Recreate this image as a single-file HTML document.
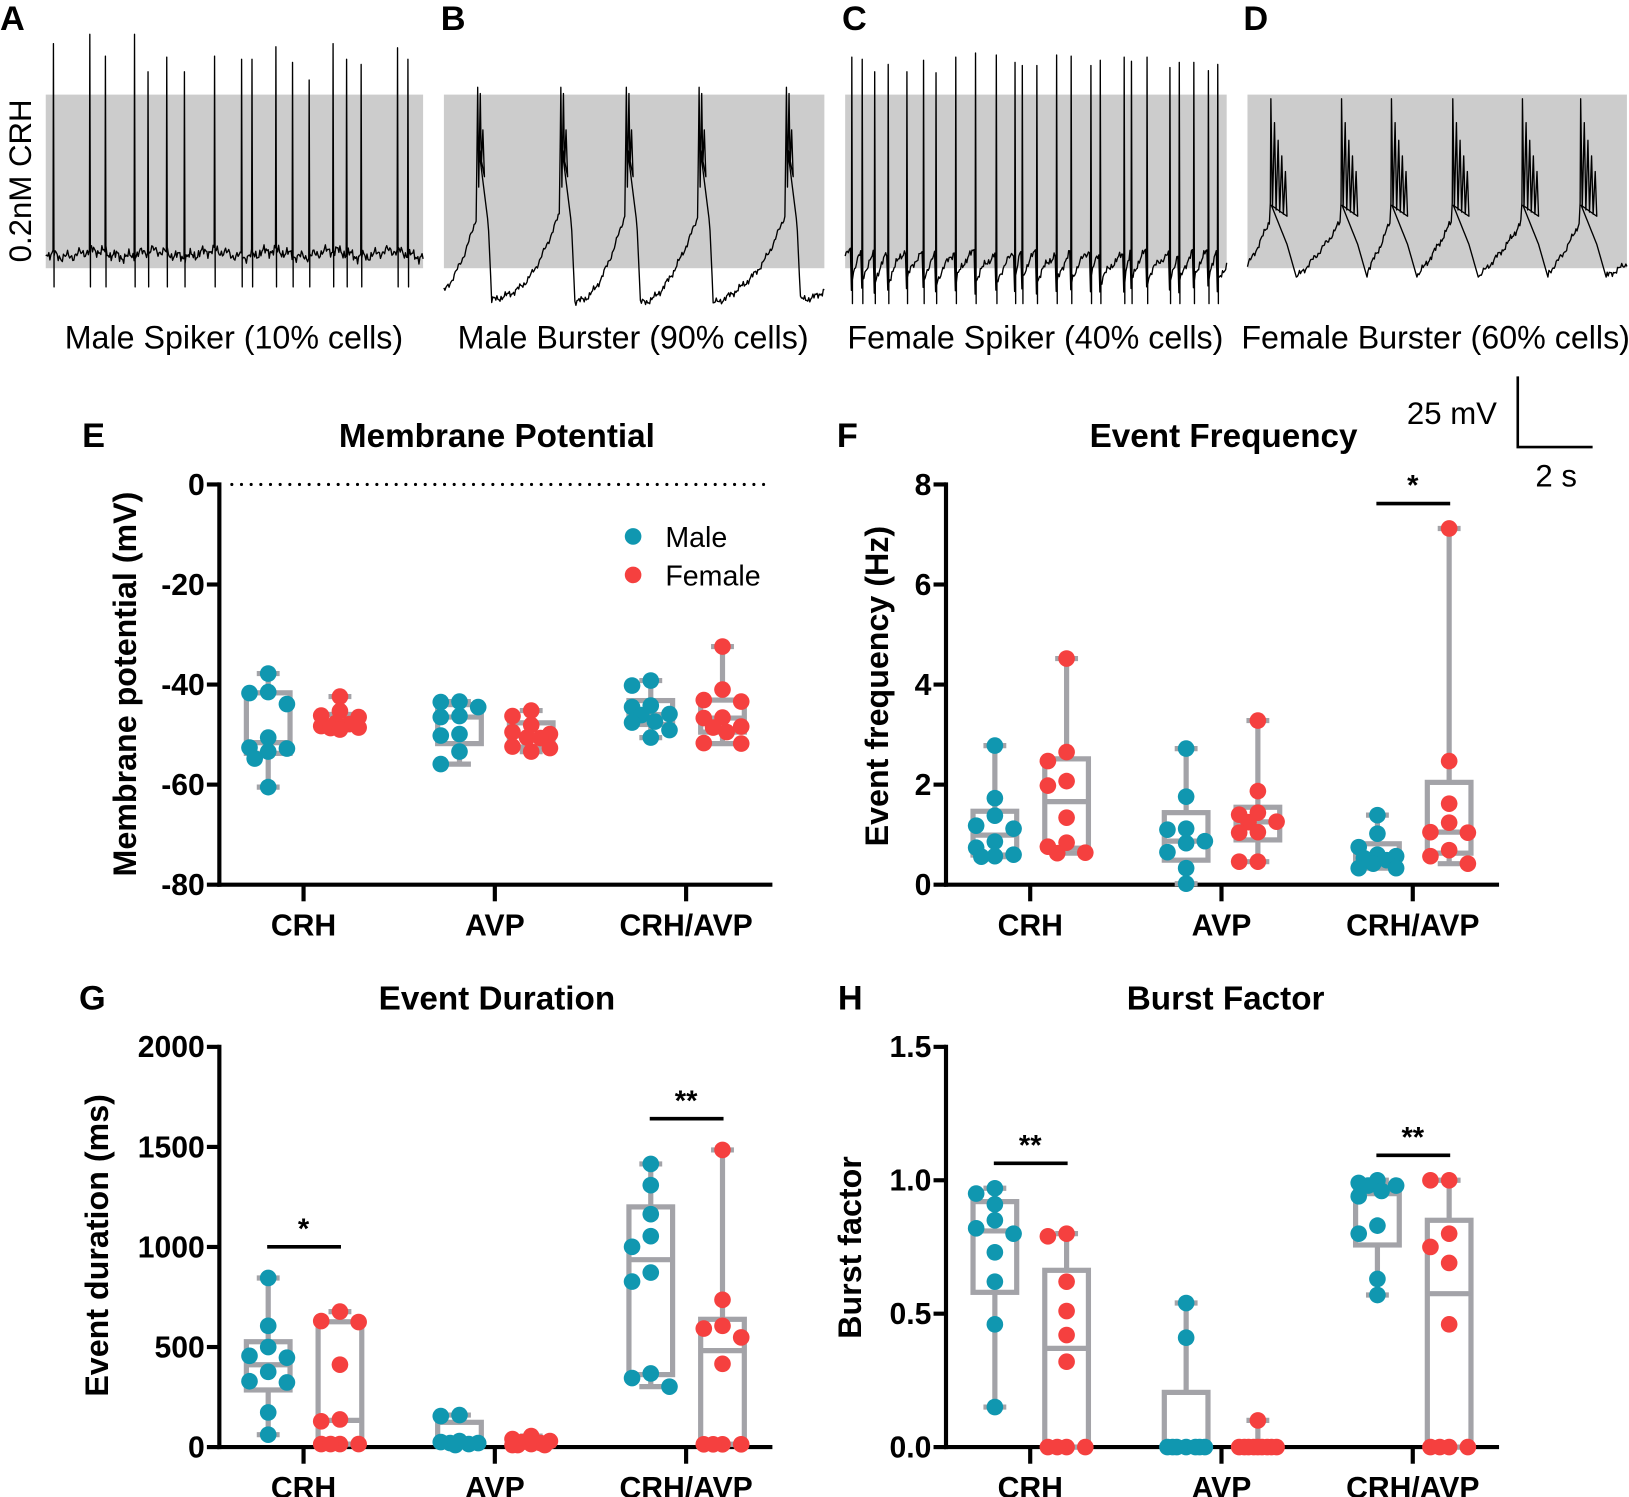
<!DOCTYPE html>
<html><head><meta charset="utf-8"><style>
html,body{margin:0;padding:0;background:#fff}
svg{display:block}
text{font-family:"Liberation Sans",Arial,sans-serif}
.b{font-weight:bold}
</style></head><body>
<svg id="fig" width="1629" height="1497" viewBox="0 0 1567 1440" xmlns="http://www.w3.org/2000/svg">
<g id="traces">
<rect x="44" y="91" width="363" height="167" fill="#cccccc"/>
<rect x="427" y="91" width="366" height="167" fill="#cccccc"/>
<rect x="813" y="91" width="367" height="167" fill="#cccccc"/>
<rect x="1200" y="91" width="365" height="167" fill="#cccccc"/>
</g>
<text class="b" x="0" y="29" font-size="33">A</text>
<text class="b" x="424" y="29" font-size="33">B</text>
<text class="b" x="810" y="29" font-size="33">C</text>
<text class="b" x="1196" y="29" font-size="33">D</text>
<text x="0" y="0" font-size="30" text-anchor="middle" transform="translate(30,174) rotate(-90)">0.2nM CRH</text>
<text x="225" y="335" font-size="31" text-anchor="middle">Male Spiker (10% cells)</text>
<text x="609" y="335" font-size="31" text-anchor="middle">Male Burster (90% cells)</text>
<text x="996" y="335" font-size="31" text-anchor="middle">Female Spiker (40% cells)</text>
<text x="1381" y="335" font-size="31" text-anchor="middle">Female Burster (60% cells)</text>
<path d="M1460,362 V430 H1532" fill="none" stroke="#000" stroke-width="2.5"/>
<text x="1440" y="408" font-size="30" text-anchor="end">25 mV</text>
<text x="1497" y="468" font-size="30" text-anchor="middle">2 s</text>

<text class="b" x="79" y="430" font-size="33">E</text>
<text class="b" x="805" y="430" font-size="33">F</text>
<text class="b" x="76" y="971" font-size="33">G</text>
<text class="b" x="806" y="971" font-size="33">H</text>
<text class="b" x="478" y="430" font-size="32" text-anchor="middle">Membrane Potential</text>
<text class="b" x="1177" y="430" font-size="32" text-anchor="middle">Event Frequency</text>
<text class="b" x="478" y="971" font-size="32" text-anchor="middle">Event Duration</text>
<text class="b" x="1179" y="971" font-size="32" text-anchor="middle">Burst Factor</text>
<text class="b" font-size="31" text-anchor="middle" transform="translate(131,658) rotate(-90)">Membrane potential (mV)</text>
<text class="b" font-size="31" text-anchor="middle" transform="translate(854,660) rotate(-90)">Event frequency (Hz)</text>
<text class="b" font-size="31" text-anchor="middle" transform="translate(104,1198) rotate(-90)">Event duration (ms)</text>
<text class="b" font-size="31" text-anchor="middle" transform="translate(828,1200) rotate(-90)">Burst factor</text>
<g>
<circle cx="609" cy="516" r="8" fill="#1097b0"/>
<text x="640" y="526" font-size="27.5">Male</text>
<circle cx="609" cy="553" r="8" fill="#f5403f"/>
<text x="640" y="563" font-size="27.5">Female</text>
</g>
<g id="charts"></g>
</svg>
<script>
const categories = ["CRH", "AVP", "CRH/AVP"];
// Panel E: membrane potential (mV)
const memTicks = [0, -20, -40, -60, -80];
const memMale = [
  [-37.8,-41.5,-41.7,-43.9,-50.6,-52.6,-52.8,-53.4,-54.8,-60.5],
  [-43.4,-43.5,-44.5,-46.3,-46.5,-49.9,-50.2,-53.4,-55.9],
  [-39.2,-40.2,-44.2,-44.5,-45.9,-46.1,-47.4,-47.6,-49.1,-50.6]
];
const memFemale = [
  [-42.4,-45.3,-46.2,-46.5,-47.7,-47.9,-48.3,-48.6,-48.7,-49.0],
  [-45.2,-46.3,-48.1,-49.5,-49.9,-50.6,-50.7,-52.4,-52.7,-53.4],
  [-32.4,-41.0,-43.1,-43.4,-46.6,-46.7,-48.4,-48.6,-49.5,-51.7,-51.8]
];
// Panel F: event frequency (Hz)
const freqTicks = [0, 2, 4, 6, 8];
const freqMale = [
  [2.78,1.73,1.38,1.18,1.12,0.86,0.74,0.60,0.57,0.56],
  [2.72,1.76,1.12,1.10,0.87,0.83,0.65,0.33,0.02],
  [1.39,1.02,0.75,0.60,0.57,0.53,0.49,0.42,0.33,0.33]
];
const freqFemale = [
  [4.52,2.65,2.47,2.07,1.98,1.34,0.84,0.76,0.64,0.63],
  [3.28,1.87,1.44,1.40,1.26,1.25,1.05,1.04,0.46,0.46],
  [7.12,2.47,1.62,1.24,1.05,1.04,0.69,0.57,0.42]
];
// Panel G: event duration (ms)
const durTicks = [0, 500, 1000, 1500, 2000];
const durMale = [
  [845,606,500,456,447,376,329,323,173,62],
  [160,155,30,25,20,20,15,10],
  [1415,1309,1164,1054,1001,872,827,368,345,302]
];
const durFemale = [
  [677,630,625,412,138,129,15,15,15,15],
  [55,40,30,25,20,15,10,10,10],
  [1485,736,606,592,548,416,14,14,14,14]
];
// Panel H: burst factor
const burstTicks = ["0.0","0.5","1.0","1.5"];
const burstMale = [
  [0.97,0.95,0.91,0.85,0.82,0.80,0.73,0.62,0.46,0.15],
  [0.54,0.41,0,0,0,0,0,0,0],
  [1.0,0.99,0.98,0.98,0.96,0.94,0.83,0.80,0.63,0.57]
];
const burstFemale = [
  [0.80,0.79,0.62,0.51,0.42,0.32,0,0,0,0],
  [0.10,0,0,0,0,0,0,0,0,0],
  [1.0,1.0,0.80,0.75,0.69,0.46,0,0,0,0]
];
// Significance annotations: [category index, label]
const sigF = [[2,"*"]];
const sigG = [[0,"*"],[2,"**"]];
const sigH = [[0,"**"],[2,"**"]];

// Trace event positions
const spikesA = [51,86,101,129,142,160,177,206,232,242,265,281,297,320,333,347,382,392];
const spikeTopA = [42,33,54,33,69,55,69,54,57,57,45,60,77,42,57,62,46,57];
const burstsB = [459,539,602,672,756];
const spikesC = [819,829,841,854,872,888,900,919,938,958,976,983,997,1016,1030,1049,1058,1081,1088,1103,1125,1134,1148,1162,1171];
const spikeTopC = [55,57,69,62,69,58,70,55,51,53,60,63,63,53,54,63,58,55,59,55,65,60,60,68,62];
const burstsD = [1222,1290,1338,1397,1464,1520];

const NS = "http://www.w3.org/2000/svg";
const root = document.getElementById("charts");
const traces = document.getElementById("traces");
const TEAL = "#1097b0", RED = "#f5403f", GRAY = "#a3a3a8";

function mk(tag, attrs, parent) {
  const e = document.createElementNS(NS, tag);
  for (const k in attrs) e.setAttribute(k, attrs[k]);
  (parent || root).appendChild(e);
  return e;
}
function noise(x, s) {
  return Math.sin(x * 1.7 + s) * 2.6 + Math.sin(x * 0.53 + s * 2) * 3 + Math.sin(x * 3.1 + s * 3) * 2 + Math.sin(x * 0.11 + s) * 3;
}
function tracePath(pts, name) {
  let d = "M" + pts.map(p => p[0].toFixed(1) + "," + p[1].toFixed(1)).join("L");
  const p = mk("path", {d: d, fill: "none", stroke: "#000", "stroke-width": 1.3, "stroke-linejoin": "round"}, traces);
  
  
}
// Trace A
(function () {
  const pts = [];
  for (let x = 44; x <= 407; x += 1) {
    let y = 244 + noise(x, 1);
    pts.push([x, y]);
    const i = spikesA.indexOf(x);
    if (i >= 0) { pts.push([x + 0.4, spikeTopA[i]]); pts.push([x + 1, 276]); }
  }
  tracePath(pts, "trace-male-spiker");
})();
// Trace B
(function () {
  const pts = [];
  const ev = [429 - 40].concat(burstsB);
  for (let x = 427; x <= 793; x += 1) {
    let prev = null, next = null;
    for (const b of ev) { if (b <= x) prev = b; else if (next === null) next = b; }
    let y;
    const after = x - prev;
    if (prev >= 459 && after <= 10) {
      y = 130 + after * 8;
    } else {
      const t0 = prev + 10, t1 = next === null ? 830 : next;
      const trough = prev >= 459 ? 290 : 300;
      const f = Math.max(0, (x - t0) / (t1 - t0));
      y = trough - (trough - 205) * Math.pow(f, 2.2) + noise(x, 2) * 0.6;
      if (x - t0 < 4 && prev >= 459) y = 200 + (x - t0) * 22;
    }
    pts.push([x, y]);
    if (burstsB.indexOf(x) >= 0) {
      pts.push([x + 0.5, 84]); pts.push([x + 1.5, 180]);
      pts.push([x + 3, 90]); pts.push([x + 4, 160]);
      pts.push([x + 5.5, 125]); pts.push([x + 7, 170]);
    }
  }
  tracePath(pts, "trace-male-burster");
})();
// Trace C
(function () {
  const pts = [];
  for (let x = 813; x <= 1180; x += 1) {
    let prev = 800, next = 1190;
    for (const s of spikesC) { if (s <= x) prev = s; else { next = s; break; } }
    const f = (x - prev) / (next - prev);
    let y = 280 - 38 * Math.sqrt(f) + noise(x, 3) * 0.7;
    pts.push([x, y]);
    const i = spikesC.indexOf(x);
    if (i >= 0) { pts.push([x + 0.4, spikeTopC[i]]); pts.push([x + 1, 292]); }
  }
  tracePath(pts, "trace-female-spiker");
})();
// Trace D
(function () {
  const pts = [];
  for (let x = 1200; x <= 1565; x += 1) {
    let prev = 1170, next = null;
    for (const b of burstsD) { if (b <= x) prev = b; else if (next === null) next = b; }
    const after = x - prev;
    let y;
    if (prev >= 1222 && after <= 16) {
      y = 195 + after * 2.5;
    } else {
      const t0 = prev + 16, t1 = next === null ? 1600 : next;
      const f = Math.max(0, (x - t0) / (t1 - t0));
      y = 270 - 60 * Math.pow(f, 1.6) + noise(x, 4) * 0.6;
      if (x - t0 < 10 && prev >= 1222) y = 235 + (x - t0) * 3.5;
    }
    pts.push([x, y]);
    if (burstsD.indexOf(x) >= 0) {
      const hs = [95, 118, 135, 150, 165];
      for (let k = 0; k < hs.length; k++) {
        pts.push([x + k * 3.5 + 0.5, hs[k]]); pts.push([x + k * 3.5 + 2, 200 + k * 2]);
      }
    }
  }
  tracePath(pts, "trace-female-burster");
})();

function quant(arr, p) {
  const s = arr.slice().sort((a, b) => a - b);
  const n = s.length;
  let h = (n + 1) * p - 1;
  if (h < 0) h = 0; if (h > n - 1) h = n - 1;
  const lo = Math.floor(h), hi = Math.ceil(h);
  return s[lo] + (s[hi] - s[lo]) * (h - lo);
}

function panel(cfg) {
  const g = mk("g", {});
  
  
  const vmin = cfg.vmin, vmax = cfg.vmax;
  const yS = v => cfg.yB - (v - vmin) / (vmax - vmin) * (cfg.yB - cfg.yT);
  const xS = i => cfg.x0 + 81 + i * 184;
  cfg.ticks.forEach(t => {
    const yy = yS(parseFloat(t));
    const tk = mk("line", {x1: cfg.x0 - 12, x2: cfg.x0, y1: yy, y2: yy, stroke: "#000", "stroke-width": 4}, g);
    
    
    const lb = mk("text", {x: cfg.x0 - 14, y: yy + 10, "font-size": 29, "text-anchor": "end", "font-weight": "bold"}, g);
    lb.textContent = String(t);
    
    
  });
  const ya = mk("line", {x1: cfg.x0, x2: cfg.x0, y1: cfg.yT - 2, y2: cfg.yB + 2, stroke: "#000", "stroke-width": 4}, g);
  
  
  const xa = mk("line", {x1: cfg.x0 - 2, x2: cfg.x0 + 532, y1: cfg.yB, y2: cfg.yB, stroke: "#000", "stroke-width": 4}, g);
  
  
  categories.forEach((c, i) => {
    const tk = mk("line", {x1: xS(i), x2: xS(i), y1: cfg.yB, y2: cfg.yB + 16, stroke: "#000", "stroke-width": 4}, g);
    
    
    const lb = mk("text", {x: xS(i), y: cfg.yB + 49, "font-size": 29, "text-anchor": "middle", "font-weight": "bold"}, g);
    lb.textContent = c;
    
    
  });
  if (cfg.zeroLine) {
    const zl = mk("line", {x1: cfg.x0 + 12, x2: cfg.x0 + 524, y1: cfg.yT, y2: cfg.yT, stroke: "#000", "stroke-width": 3, "stroke-dasharray": "0 9.3", "stroke-linecap": "round"}, g);
    
    
  }
  const groups = [[cfg.male, -34, TEAL, "male"], [cfg.female, 35, RED, "female"]];
  groups.forEach(([series, off, col, sex]) => {
    series.forEach((vals, i) => {
      const cx = xS(i) + off;
      const mn = Math.min(...vals), mx = Math.max(...vals);
      const q1 = quant(vals, 0.25), q3 = quant(vals, 0.75), md = quant(vals, 0.5);
      const bg = mk("g", {stroke: GRAY, "stroke-width": 5, fill: "none"}, g);
      
      
      mk("line", {x1: cx, x2: cx, y1: yS(mx), y2: yS(q3)}, bg);
      mk("line", {x1: cx, x2: cx, y1: yS(q1), y2: yS(mn)}, bg);
      mk("line", {x1: cx - 11, x2: cx + 11, y1: yS(mx), y2: yS(mx)}, bg);
      mk("line", {x1: cx - 11, x2: cx + 11, y1: yS(mn), y2: yS(mn)}, bg);
      mk("rect", {x: cx - 21, y: yS(q3), width: 42, height: Math.max(0.1, yS(q1) - yS(q3))}, bg);
      mk("line", {x1: cx - 21, x2: cx + 21, y1: yS(md), y2: yS(md)}, bg);
      const placed = [];
      const order = vals.map((v, k) => k).sort((a, b) => vals[b] - vals[a]);
      const cands = [0, -18, 18, -9, 9, -13, 13, -4, 4];
      order.forEach(k => {
        const py = yS(vals[k]);
        let best = cx, bestD = -1;
        for (const o of cands) {
          const tx = cx + o;
          const d = placed.length ? Math.min(...placed.map(p => Math.hypot(p[0] - tx, p[1] - py))) : 99;
          if (d >= 13) { best = tx; bestD = d; break; }
          if (d > bestD) { bestD = d; best = tx; }
        }
        placed.push([best, py]);
        const c = mk("circle", {cx: best, cy: py, r: 8, fill: col}, g);
        
        
      });
    });
  });
  (cfg.sig || []).forEach(([i, lab]) => {
    const top = Math.max(Math.max(...cfg.male[i]), Math.max(...cfg.female[i]));
    const yy = yS(top) - cfg.sigGap;
    const ln = mk("line", {x1: xS(i) - 35, x2: xS(i) + 36, y1: yy, y2: yy, stroke: "#000", "stroke-width": 3.5}, g);
    
    
    const t = mk("text", {x: xS(i), y: yy - 8, "font-size": 28, "text-anchor": "middle", "font-weight": "bold"}, g);
    t.textContent = lab;
    
    
  });
}

panel({name: "chart-membrane-potential", x0: 211, yT: 466, yB: 851, vmin: -80, vmax: 0,
  ticks: memTicks, male: memMale, female: memFemale, zeroLine: true});
panel({name: "chart-event-frequency", x0: 910, yT: 466, yB: 851, vmin: 0, vmax: 8,
  ticks: freqTicks, male: freqMale, female: freqFemale, sig: sigF, sigGap: 24});
panel({name: "chart-event-duration", x0: 211, yT: 1007, yB: 1392, vmin: 0, vmax: 2000,
  ticks: durTicks, male: durMale, female: durFemale, sig: sigG, sigGap: 30});
panel({name: "chart-burst-factor", x0: 910, yT: 1007, yB: 1392, vmin: 0, vmax: 1.5,
  ticks: burstTicks, male: burstMale, female: burstFemale, sig: sigH, sigGap: 24});
</script>
</body></html>
